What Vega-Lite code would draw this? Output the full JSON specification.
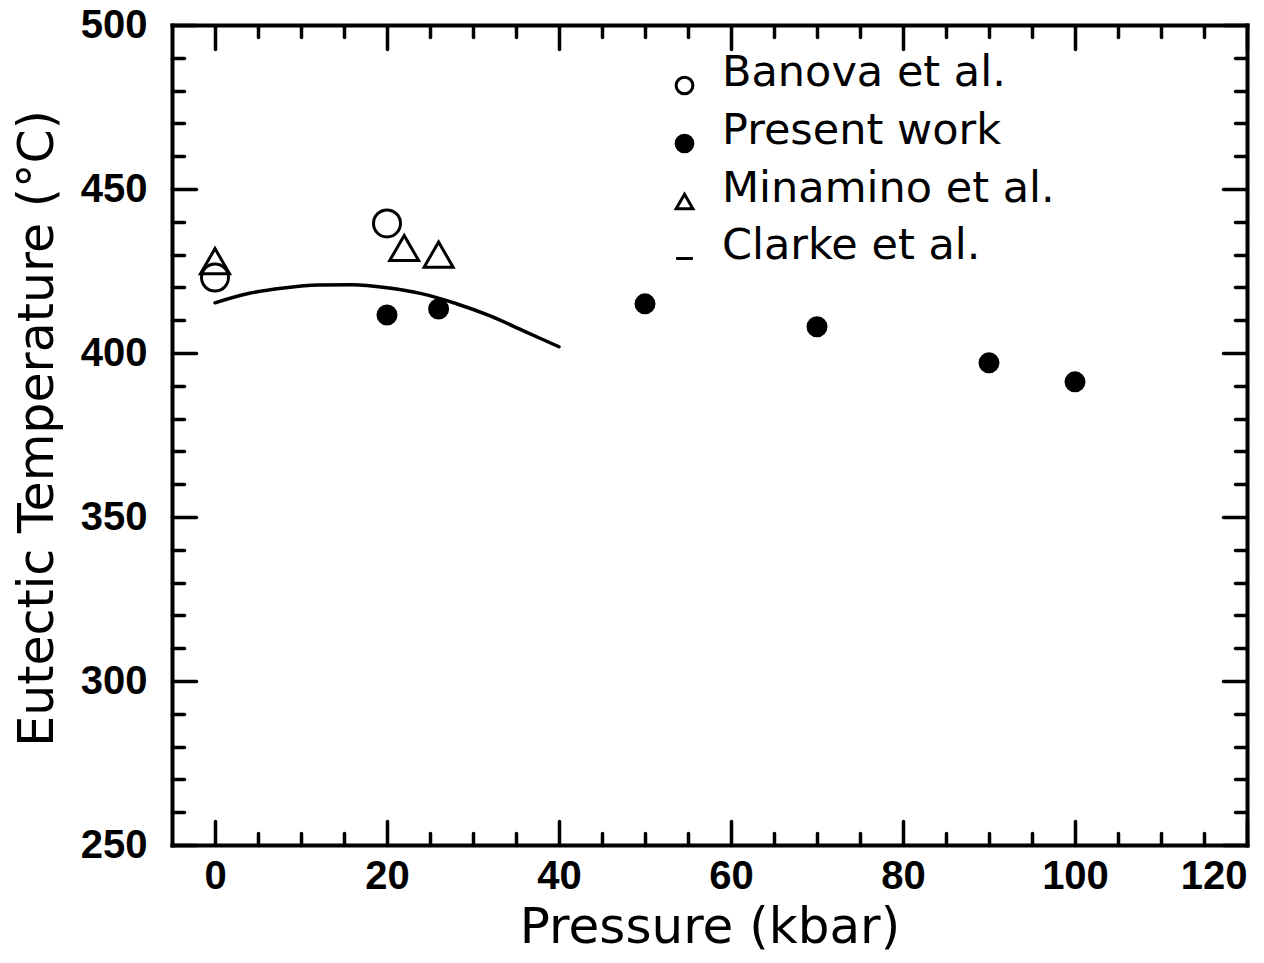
{
  "$schema": "https://vega.github.io/schema/vega-lite/v6.json",
  "width": 1075,
  "height": 820,
  "autosize": "none",
  "padding": {"left": 172, "top": 25, "right": 17, "bottom": 118},
  "background": "white",
  "config": {
    "view": {"stroke": null},
    "axis": {
      "grid": false,
      "domainColor": "black",
      "domainWidth": 4,
      "domainCap": "square",
      "tickColor": "black",
      "tickWidth": 3.5,
      "tickCap": "round",
      "labelColor": "black",
      "labelFont": "Liberation Sans",
      "labelFontWeight": "bold",
      "labelFontSize": 40,
      "labelFlush": false,
      "labelOverlap": false,
      "titleColor": "black",
      "titleFont": "DejaVu Sans",
      "titleFontWeight": "normal"
    },
    "legend": {
      "orient": "none", "legendX": 491, "legendY": 39, "title": null, "padding": 0,
      "labelFont": "DejaVu Sans", "labelFontSize": 43, "labelColor": "black",
      "labelBaseline": "alphabetic", "labelOffset": 16, "labelLimit": 0,
      "symbolSize": 280, "symbolStrokeWidth": 3,
      "rowPadding": 9
    }
  },
  "datasets": {
    "points": [
      {"series": "Banova et al.", "pressure": 0, "temperature": 423},
      {"series": "Banova et al.", "pressure": 20, "temperature": 439.5},
      {"series": "Present work", "pressure": 20, "temperature": 411.6},
      {"series": "Present work", "pressure": 26, "temperature": 413.4},
      {"series": "Present work", "pressure": 50, "temperature": 415},
      {"series": "Present work", "pressure": 70, "temperature": 408},
      {"series": "Present work", "pressure": 90, "temperature": 397},
      {"series": "Present work", "pressure": 100, "temperature": 391.2},
      {"series": "Minamino et al.", "pressure": 0, "temperature": 428},
      {"series": "Minamino et al.", "pressure": 22, "temperature": 432},
      {"series": "Minamino et al.", "pressure": 26, "temperature": 430}
    ],
    "clarke": [
      {"pressure": 0, "temperature": 415.3},
      {"pressure": 4, "temperature": 418.2},
      {"pressure": 8, "temperature": 419.8},
      {"pressure": 12, "temperature": 420.7},
      {"pressure": 16, "temperature": 420.8},
      {"pressure": 20, "temperature": 419.9},
      {"pressure": 24, "temperature": 418.1},
      {"pressure": 28, "temperature": 415.1},
      {"pressure": 32, "temperature": 411.3},
      {"pressure": 36, "temperature": 406.6},
      {"pressure": 40, "temperature": 401.9}
    ]
  },
  "resolve": {"axis": {"x": "independent", "y": "independent"}},
  "layer": [
    {
      "data": {"name": "clarke"},
      "mark": {"type": "line", "color": "black", "strokeWidth": 3.5, "interpolate": "monotone", "strokeCap": "round"},
      "encoding": {
        "x": {
          "field": "pressure", "type": "quantitative",
          "scale": {"domain": [-5, 120], "nice": false, "zero": false},
          "axis": {
            "orient": "top", "title": null, "labels": false,
            "values": [0, 5, 10, 15, 20, 25, 30, 35, 40, 45, 50, 55, 60, 65, 70, 75, 80, 85, 90, 95, 100, 105, 110, 115, 120],
            "tickSize": {"condition": {"test": "datum.value % 20 === 0", "value": -24}, "value": -12}
          }
        },
        "y": {
          "field": "temperature", "type": "quantitative",
          "scale": {"domain": [250, 500], "nice": false, "zero": false},
          "axis": {
            "orient": "right", "title": null, "labels": false,
            "values": [250, 260, 270, 280, 290, 300, 310, 320, 330, 340, 350, 360, 370, 380, 390, 400, 410, 420, 430, 440, 450, 460, 470, 480, 490, 500],
            "tickSize": {"condition": {"test": "datum.value % 50 === 0", "value": -24}, "value": -12}
          }
        }
      }
    },
    {
      "data": {"name": "points"},
      "mark": {"type": "point", "filled": false, "stroke": "black", "strokeWidth": 3, "opacity": 1},
      "encoding": {
        "x": {
          "field": "pressure", "type": "quantitative",
          "scale": {"domain": [-5, 120], "nice": false, "zero": false},
          "axis": {
            "orient": "bottom", "title": "Pressure (kbar)",
            "values": [0, 5, 10, 15, 20, 25, 30, 35, 40, 45, 50, 55, 60, 65, 70, 75, 80, 85, 90, 95, 100, 105, 110, 115, 120],
            "tickSize": {"condition": {"test": "datum.value % 20 === 0", "value": -24}, "value": -12},
            "labelExpr": "datum.value % 20 === 0 ? datum.label : ''",
            "labelPadding": 35,
            "labelFlush": true,
            "titleFontSize": 50,
            "titleBaseline": "alphabetic",
            "titleY": 97
          }
        },
        "y": {
          "field": "temperature", "type": "quantitative",
          "scale": {"domain": [250, 500], "nice": false, "zero": false},
          "axis": {
            "orient": "left", "title": "Eutectic Temperature (°C)",
            "values": [250, 260, 270, 280, 290, 300, 310, 320, 330, 340, 350, 360, 370, 380, 390, 400, 410, 420, 430, 440, 450, 460, 470, 480, 490, 500],
            "tickSize": {"condition": {"test": "datum.value % 50 === 0", "value": -24}, "value": -12},
            "labelExpr": "datum.value % 50 === 0 ? datum.label : ''",
            "labelPadding": 49,
            "titleFontSize": 49,
            "titleBaseline": "alphabetic",
            "titleX": -120,
            "titleY": 403
          }
        },
        "shape": {
          "field": "series", "type": "nominal",
          "scale": {
            "domain": ["Banova et al.", "Present work", "Minamino et al.", "Clarke et al."],
            "range": ["circle", "circle", "triangle-up", "stroke"]
          }
        },
        "fill": {
          "field": "series", "type": "nominal",
          "scale": {
            "domain": ["Banova et al.", "Present work", "Minamino et al.", "Clarke et al."],
            "range": ["transparent", "black", "transparent", "black"]
          }
        },
        "size": {
          "condition": [
            {"test": "datum.series === 'Present work'", "value": 324},
            {"test": "datum.series === 'Minamino et al.'", "value": 841}
          ],
          "value": 729
        }
      }
    }
  ]
}
